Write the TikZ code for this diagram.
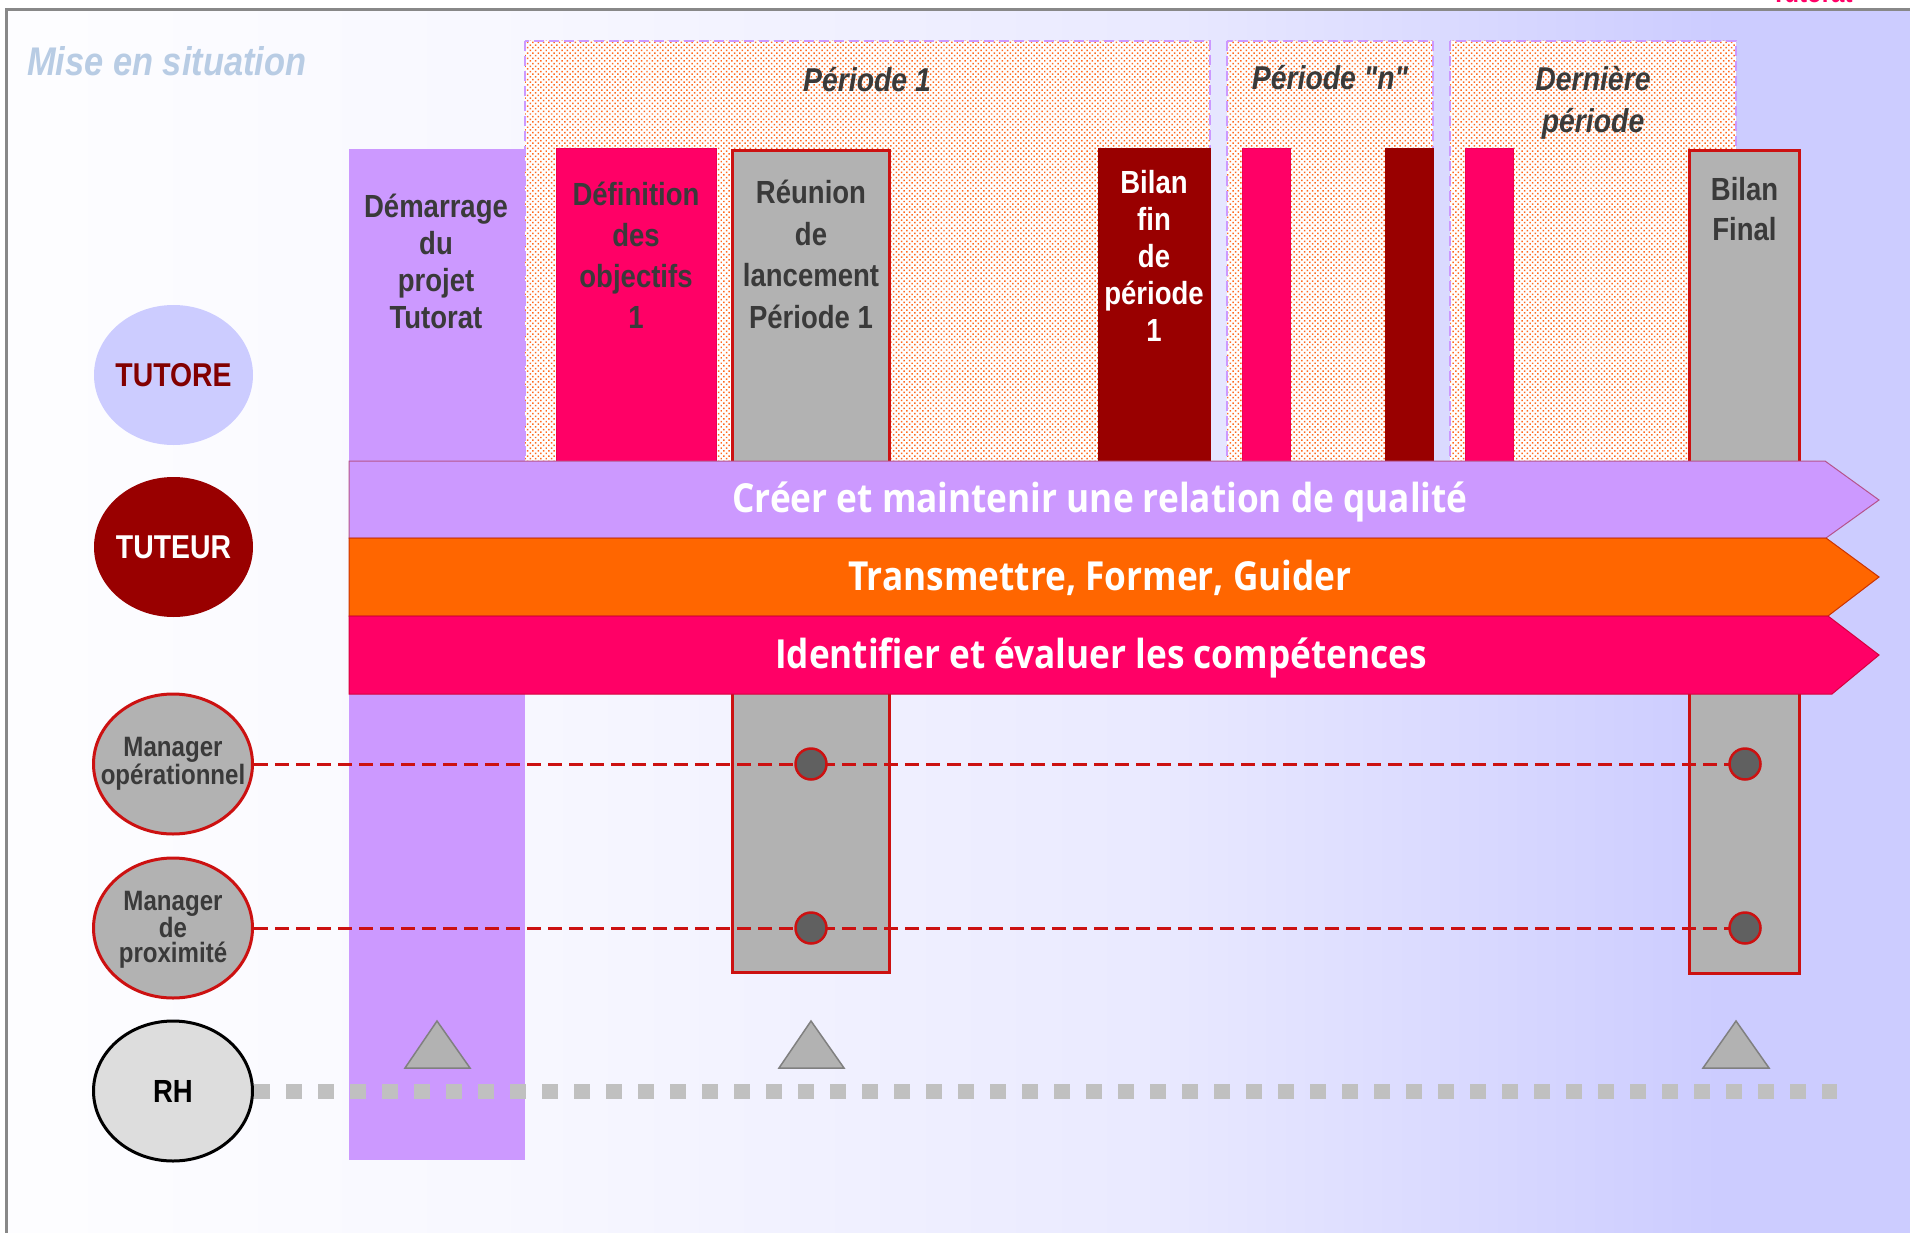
\documentclass[tikz,border=0pt]{standalone}
\usepackage{fontspec}
\setmainfont{Liberation Sans}[FakeStretch=0.86, Ligatures=TeXOff]
\newfontfamily\barfont{Open Sans}[FakeStretch=0.88]
\usetikzlibrary{shapes.geometric,patterns.meta}

\definecolor{lilac}{HTML}{CC99FF}
\definecolor{rose}{HTML}{FF0066}
\definecolor{bordeaux}{HTML}{990000}
\definecolor{midgray}{HTML}{B2B2B2}
\definecolor{darkdot}{HTML}{606060}
\definecolor{redline}{HTML}{CC1111}
\definecolor{orangebar}{HTML}{FF6600}
\definecolor{lavender}{HTML}{CCCCFF}
\definecolor{inkgray}{HTML}{3A3A3A}
\definecolor{titleblue}{HTML}{B8CCE4}
\definecolor{dotorange}{HTML}{FF6A20}
\definecolor{rhgray}{HTML}{C0C0C0}
\definecolor{rhfill}{HTML}{DDDDDD}
\definecolor{framegray}{HTML}{888888}
\colorlet{bgA}{lavender!3!white}
\colorlet{bgB}{lavender!15!white}
\colorlet{bgC}{lavender!42!white}

\pgfdeclarehorizontalshading{slidebg}{100bp}{color(0bp)=(bgA); color(25bp)=(bgA); color(38.6bp)=(bgB); color(55bp)=(bgC); color(70bp)=(lavender); color(100bp)=(lavender)}

\tikzset{
  periodbox/.style={preaction={fill=white},
    pattern={Dots[distance=3.75pt, radius=1.05pt, angle=45]}, pattern color=dotorange,
    draw=lilac, line width=2pt, dash pattern=on 10pt off 5pt},
  coltext/.style={inner sep=0pt, anchor=north, align=center, text=inkgray},
  periodtitle/.style={inner sep=0pt, text=inkgray,
    font=\bfseries\itshape\fontsize{33}{42}\selectfont},
  bartext/.style={inner sep=0pt, anchor=base, text=white,
    font=\barfont\bfseries\fontsize{40}{44}\selectfont},
  actor/.style={ellipse, inner sep=0pt, minimum width=159pt, minimum height=140pt},
  actorlabel/.style={inner sep=0pt, align=center, font=\bfseries\fontsize{33}{36}\selectfont},
  managerlabel/.style={inner sep=0pt, align=center, text=inkgray,
    font=\bfseries\fontsize{28}{25}\selectfont},
  linkline/.style={draw=redline, line width=3pt, dash pattern=on 14pt off 7pt},
  rhline/.style={draw=rhgray, line width=15pt, dash pattern=on 16pt off 16pt},
  meetdot/.style={circle, inner sep=0pt, minimum size=31pt, fill=darkdot,
    draw=redline, line width=2.5pt},
  marker/.style={fill=midgray, draw=gray, line width=1.5pt, line join=miter},
  thincol/.style={line width=1pt},
  meetbox/.style={fill=midgray, draw=redline, line width=3.5pt}
}

\begin{document}
\begin{tikzpicture}[x=1pt, y=-1pt]
\useasboundingbox (0,0) rectangle (1910,1233);
\fill[white] (0,0) rectangle (1910,1233);

% slide background and frame
\shade[shading=slidebg] (6,10) rectangle (1910,1233);
\draw[framegray, line width=3pt] (6,1233) -- (6,10) -- (1910,10);
\begin{scope}
  \clip (1700,0) rectangle (1910,8.5);
  \node[anchor=base, inner sep=0pt, text=rose, font=\bfseries\fontsize{28}{30}\selectfont]
    (corner) at (1812,3) {Tutorat};
\end{scope}

\node[anchor=base west, inner sep=0pt, text=titleblue,
  font=\bfseries\itshape\fontsize{40}{44}\selectfont] (title) at (27,76) {Mise en situation};

% periods
\path[periodbox] (525,41) rectangle (1210,693);
\path[periodbox] (1227,41) rectangle (1433,693);
\path[periodbox] (1450,41) rectangle (1736,693);
\node[periodtitle, anchor=base] (p1title) at (867,92) {Période 1};
\node[periodtitle, anchor=base] (pntitle) at (1330,90) {Période "n"};
\node[periodtitle, anchor=north, align=center] (pltitle) at (1593,60.6) {\strut Dernière\\période};

% milestone columns
\fill[lilac] (349,149) rectangle (525,1160);
\filldraw[fill=rose, draw=rose!80!bordeaux, thincol] (556,149) rectangle (716,693);
\filldraw[fill=bordeaux, draw=bordeaux, thincol] (1098,149) rectangle (1210,693);
\filldraw[fill=rose, draw=rose!80!bordeaux, thincol] (1242,149) rectangle (1290,693);
\filldraw[fill=bordeaux, draw=bordeaux, thincol] (1385,149) rectangle (1433,693);
\filldraw[fill=rose, draw=rose!80!bordeaux, thincol] (1465,149) rectangle (1513,693);
\path[meetbox] (732.5,150.5) rectangle (889.5,972.5);
\path[meetbox] (1689.5,150.5) rectangle (1799.5,973.5);

\node[coltext, font=\bfseries\fontsize{32}{37}\selectfont] (demtxt) at (436,191)
  {\strut Démarrage\\du\\projet\\Tutorat};
\node[coltext, font=\bfseries\fontsize{32}{41}\selectfont] (deftxt) at (636,176.3)
  {\strut Définition\\des\\objectifs\\1};
\node[coltext, font=\bfseries\fontsize{32}{41.5}\selectfont] (reutxt) at (811,174.4)
  {\strut Réunion\\de\\lancement\\Période 1};
\node[coltext, text=white, font=\bfseries\fontsize{32}{37}\selectfont] (biltxt) at (1154,167.1)
  {\strut Bilan\\fin\\de\\période\\1};
\node[coltext, font=\bfseries\fontsize{32}{40}\selectfont] (finaltxt) at (1744.5,172)
  {\strut Bilan\\Final};

% tutor missions
\filldraw[fill=lilac, draw=lilac!55!bordeaux, line width=1pt]
  (349,461) -- (1825,461) -- (1879,500) -- (1826,538) -- (349,538) -- cycle;
\filldraw[fill=orangebar, draw=orangebar!50!bordeaux, line width=1pt]
  (349,538) -- (1826,538) -- (1879,577) -- (1828,616) -- (349,616) -- cycle;
\filldraw[fill=rose, draw=rose!60!bordeaux, line width=1pt]
  (349,616) -- (1828,616) -- (1879,655) -- (1832,694) -- (349,694) -- cycle;
\node[bartext] (m1) at (1100,512) {Créer et maintenir une relation de qualité};
\node[bartext] (m2) at (1100,590) {Transmettre, Former, Guider};
\node[bartext] (m3) at (1101,668) {Identifier et évaluer les compétences};

% actors
\node[actor, fill=lavender] (tutore) at (173.5,375) {};
\node[actorlabel, text=bordeaux!85!black] at (tutore) {TUTORE};
\node[actor, fill=bordeaux] (tuteur) at (173.5,547) {};
\node[actorlabel, text=white] at (tuteur) {TUTEUR};
\node[actor, fill=midgray, draw=redline, line width=3pt] (mop) at (173,764) {};
\node[managerlabel] (moptxt) at (mop) {Manager\\opérationnel};
\node[actor, fill=midgray, draw=redline, line width=3pt] (mpx) at (173,928) {};
\node[managerlabel] (mpxtxt) at ([yshift=-2pt]mpx.center) {Manager\\de\\proximité};
\node[actor, fill=rhfill, draw=black, line width=3pt] (rh) at (173,1091) {};
\node[actorlabel, text=black, font=\bfseries\fontsize{32}{34}\selectfont] at (rh) {RH};

% involvement lines
\coordinate (op1) at (811,764);
\coordinate (op2) at (1745,764);
\coordinate (px1) at (811,928);
\coordinate (px2) at (1745,928);
\coordinate (rhend) at (1837,1091);
\draw[linkline] (mop.east) -- (op2);
\draw[linkline] (mpx.east) -- (px2);
\node[meetdot] (dop1) at (op1) {};
\node[meetdot] (dop2) at (op2) {};
\node[meetdot] (dpx1) at (px1) {};
\node[meetdot] (dpx2) at (px2) {};

\draw[rhline] (rh.east) -- (rhend);
\path[marker] (437,1021) -- (470,1068) -- (405,1068) -- cycle;
\path[marker] (811,1021) -- (844,1068) -- (779,1068) -- cycle;
\path[marker] (1736,1021) -- (1769,1068) -- (1703,1068) -- cycle;
\end{tikzpicture}
\end{document}
